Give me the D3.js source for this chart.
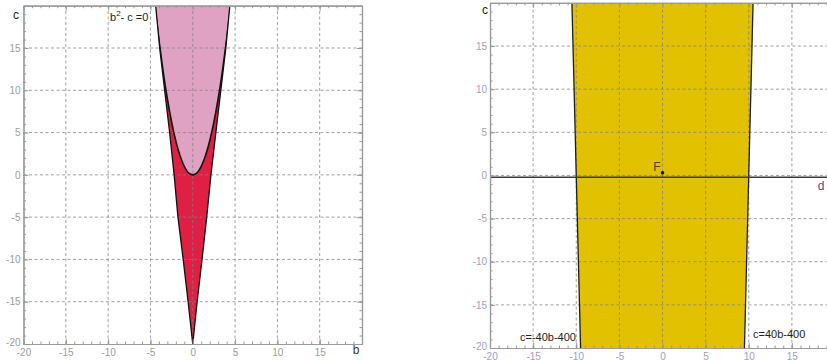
<!DOCTYPE html>
<html><head><meta charset="utf-8">
<script src="https://cdn.jsdelivr.net/npm/d3@7"></script>
<style>body{margin:0;background:#fff}svg{display:block}text{font-family:"Liberation Sans",Arial,sans-serif}</style>
</head><body>
<script>
// ---- data ----
const majorTicks = [-20, -15, -10, -5, 0, 5, 10, 15];
const minorTicks = d3.range(-20, 21, 1);
const gridVals = [-15, -10, -5, 0, 5, 10, 15];
// left panel: outer wedge boundary
const wedgeC      = [-20, -15, -10, -5, 0, 5, 10, 15, 20];
const wedgeLeftB  = [0, -0.55, -1.13, -1.75, -2.2, -2.73, -3.32, -3.91, -4.38];
const wedgeRightB = [0, 0.52, 1.1, 1.65, 2.15, 2.73, 3.32, 3.91, 4.38];
// parabola b^2 - c = 0
const parabolaB = [-4.8, -4.4, -4, -3.5, -3, -2.5, -2, -1.5, -1, -0.75, -0.5, -0.25, 0, 0.25, 0.5, 0.75, 1, 1.5, 2, 2.5, 3, 3.5, 4, 4.4, 4.8];
const parabolaC = [23.04, 19.36, 16, 12.25, 9, 6.25, 4, 2.25, 1, 0.5625, 0.25, 0.0625, 0, 0.0625, 0.25, 0.5625, 1, 2.25, 4, 6.25, 9, 12.25, 16, 19.36, 23.04];
// right panel: lines c=-40b-400 and c=40b-400
const lineC = [-20, 20];
const leftLineB = [-9.5, -10.5];
const rightLineB = [9.5, 10.5];
const pointF = {b: 0, c: 0.3};
const dAxisC = -0.2;

const W = 827, H = 362;
const svg = d3.select("body").append("svg").attr("width", W).attr("height", H);
svg.append("rect").attr("width", W).attr("height", H).attr("fill", "#fff");

const gridColor = "rgba(130,130,130,0.75)";
const frameColor = "#9a9a9a";

function panel(id, xr, yr, opts) {
  const x = d3.scaleLinear().domain([-20, 20]).range(xr);
  const y = d3.scaleLinear().domain([-20, 20]).range(yr);
  const g = svg.append("g");
  const defs = svg.append("defs");
  defs.append("clipPath").attr("id", "clip" + id).append("rect")
    .attr("x", xr[0]).attr("y", yr[1]).attr("width", xr[1] - xr[0]).attr("height", yr[0] - yr[1]);
  const plot = g.append("g").attr("clip-path", `url(#clip${id})`);
  const fills = plot.append("g");
  const grid = plot.append("g");
  gridVals.forEach(v => {
    grid.append("line").attr("x1", x(v)).attr("x2", x(v)).attr("y1", yr[0]).attr("y2", yr[1])
      .attr("stroke", gridColor).attr("stroke-dasharray", "3,2.5").attr("stroke-width", 1);
    grid.append("line").attr("y1", y(v)).attr("y2", y(v)).attr("x1", xr[0]).attr("x2", xr[1])
      .attr("stroke", gridColor).attr("stroke-dasharray", "3,2.5").attr("stroke-width", 1);
  });
  const over = plot.append("g");

  const labCol = opts.labCol;
  function styleAxis(a) {
    a.select(".domain").attr("stroke", frameColor).attr("stroke-width", 1.2);
    a.selectAll(".tick line").attr("stroke", frameColor);
    a.selectAll(".tick text").attr("fill", labCol).attr("font-size", 10)
      .attr("font-family", "Liberation Sans, Arial, sans-serif");
  }
  const fmt = d => d3.format("d")(d).replace("−", "-");
  // bottom
  const b1 = g.append("g").attr("transform", `translate(0,${yr[0]})`)
    .call(d3.axisBottom(x).tickValues(majorTicks).tickSizeInner(-5).tickSizeOuter(0).tickPadding(5).tickFormat(fmt));
  styleAxis(b1);
  const b2 = g.append("g").attr("transform", `translate(0,${yr[0]})`)
    .call(d3.axisBottom(x).tickValues(minorTicks).tickSizeInner(-2.5).tickSizeOuter(0).tickFormat(""));
  styleAxis(b2);
  // left
  const l1 = g.append("g").attr("transform", `translate(${xr[0]},0)`)
    .call(d3.axisLeft(y).tickValues(majorTicks).tickSizeInner(-5).tickSizeOuter(0).tickPadding(3).tickFormat(fmt));
  styleAxis(l1);
  l1.selectAll(".tick text").filter(d => d === -20).attr("dy", "0.1em");
  const l2 = g.append("g").attr("transform", `translate(${xr[0]},0)`)
    .call(d3.axisLeft(y).tickValues(minorTicks).tickSizeInner(-2.5).tickSizeOuter(0).tickFormat(""));
  styleAxis(l2);
  // top
  const t1 = g.append("g").attr("transform", `translate(0,${yr[1]})`)
    .call(d3.axisTop(x).tickValues(majorTicks).tickSizeInner(-5).tickSizeOuter(0).tickFormat(""));
  styleAxis(t1);
  const t2 = g.append("g").attr("transform", `translate(0,${yr[1]})`)
    .call(d3.axisTop(x).tickValues(minorTicks).tickSizeInner(-2.5).tickSizeOuter(0).tickFormat(""));
  styleAxis(t2);
  if (opts.rightFrame) {
    const r1 = g.append("g").attr("transform", `translate(${xr[1]},0)`)
      .call(d3.axisRight(y).tickValues(majorTicks).tickSizeInner(-5).tickSizeOuter(0).tickFormat(""));
    styleAxis(r1);
    const r2 = g.append("g").attr("transform", `translate(${xr[1]},0)`)
      .call(d3.axisRight(y).tickValues(minorTicks).tickSizeInner(-2.5).tickSizeOuter(0).tickFormat(""));
    styleAxis(r2);
  }
  return {x, y, fills, over, g, defs};
}

// ---------- left panel ----------
const L = panel("L", [23.5, 362], [344, 5.7], {labCol: "#9c9c9c", rightFrame: true});
{
  const {x, y, fills, over, defs} = L;
  const wedgePts = wedgeC.map((c, i) => [wedgeLeftB[i], c])
    .concat(wedgeC.map((c, i) => [wedgeRightB[i], c]).reverse());
  const line = d3.line().x(d => x(d[0])).y(d => y(d[1]));
  defs.append("clipPath").attr("id", "wedgeClip").append("path").attr("d", line(wedgePts) + "Z");
  fills.append("path").attr("d", line(wedgePts) + "Z").attr("fill", "#e01f44");
  const para = parabolaB.map((b, i) => [b, parabolaC[i]]);
  const area = d3.area().x(d => x(d[0])).y0(y(25)).y1(d => y(d[1])).curve(d3.curveMonotoneX);
  fills.append("path").attr("d", area(para)).attr("fill", "#dfa2c2").attr("clip-path", "url(#wedgeClip)");
  const pline = d3.line().x(d => x(d[0])).y(d => y(d[1])).curve(d3.curveMonotoneX);
  over.append("path").attr("d", pline(para)).attr("fill", "none").attr("stroke", "#111")
    .attr("stroke-width", 1.6).attr("clip-path", "url(#wedgeClip)");
  over.append("path").attr("d", line(wedgePts.slice(0, wedgeC.length))).attr("fill", "none").attr("stroke", "#111").attr("stroke-width", 1.3);
  over.append("path").attr("d", line(wedgePts.slice(wedgeC.length))).attr("fill", "none").attr("stroke", "#111").attr("stroke-width", 1.3);
  svg.append("text").attr("x", 16).attr("y", 19).attr("font-size", 12).attr("fill", "#222").attr("text-anchor", "middle").text("c");
  svg.append("text").attr("x", 356).attr("y", 354).attr("font-size", 12).attr("fill", "#3a3a20").attr("text-anchor", "middle").text("b");
  const t = svg.append("text").attr("x", 110).attr("y", 21).attr("font-size", 11).attr("fill", "#222");
  t.append("tspan").text("b");
  t.append("tspan").attr("font-size", 8).attr("dy", -5).text("2");
  t.append("tspan").attr("dy", 5).text("- c =0");
}

// ---------- right panel ----------
const R = panel("R", [490, 835], [348, 2.9], {labCol: "#a59cbb", rightFrame: false});
{
  const {x, y, fills, over} = R;
  const poly = lineC.map((c, i) => [leftLineB[i], c])
    .concat(lineC.map((c, i) => [rightLineB[i], c]).reverse());
  const line = d3.line().x(d => x(d[0])).y(d => y(d[1]));
  fills.append("path").attr("d", line(poly) + "Z").attr("fill", "#e1c100");
  over.append("path").attr("d", line(lineC.map((c, i) => [leftLineB[i], c]))).attr("stroke", "#1e1e1e").attr("stroke-width", 1.3).attr("fill", "none");
  over.append("path").attr("d", line(lineC.map((c, i) => [rightLineB[i], c]))).attr("stroke", "#1e1e1e").attr("stroke-width", 1.3).attr("fill", "none");
  over.append("line").attr("x1", x(-20)).attr("x2", x(20)).attr("y1", y(dAxisC)).attr("y2", y(dAxisC))
    .attr("stroke", "#3a3a3a").attr("stroke-width", 1.4);
  over.append("circle").attr("cx", x(pointF.b)).attr("cy", y(pointF.c)).attr("r", 1.8).attr("fill", "#111");
  svg.append("text").attr("x", 657).attr("y", 171).attr("font-size", 12).attr("fill", "#4a4a2a").attr("text-anchor", "middle").text("F");
  svg.append("text").attr("x", 821).attr("y", 190).attr("font-size", 12).attr("fill", "#5a4a7a").attr("text-anchor", "middle").text("d");
  svg.append("text").attr("x", 485).attr("y", 14).attr("font-size", 12).attr("fill", "#222").attr("text-anchor", "middle").text("c");
  svg.append("text").attr("x", 520).attr("y", 341).attr("font-size", 11).attr("fill", "#222").text("c=-40b-400");
  svg.append("text").attr("x", 753).attr("y", 338).attr("font-size", 11).attr("fill", "#222").text("c=40b-400");
}
</script>
</body></html>
